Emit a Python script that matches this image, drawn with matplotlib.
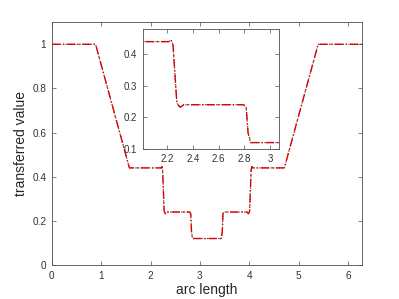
import matplotlib
matplotlib.use("Agg")
import matplotlib.pyplot as plt
import numpy as np

plt.rcParams['font.family'] = ['Liberation Sans', 'DejaVu Sans']

arc = [0.0, 0.886, 1.571, 2.215, 2.23, 2.245, 2.275, 2.30, 2.33, 2.795, 2.815, 2.83, 2.85,
       3.433, 3.453, 3.468, 3.488, 3.953, 3.983, 4.008, 4.038, 4.053, 4.068, 4.712, 5.397, 6.2832]
val = [1.0, 1.0, 0.44, 0.44, 0.446, 0.43, 0.245, 0.232, 0.24, 0.24, 0.232, 0.15, 0.12,
       0.12, 0.15, 0.232, 0.24, 0.24, 0.232, 0.245, 0.43, 0.446, 0.44, 0.44, 1.0, 1.0]

main_xticks = [0, 1, 2, 3, 4, 5, 6]
main_yticks = [0, 0.2, 0.4, 0.6, 0.8, 1]
inset_xticks = [2.2, 2.4, 2.6, 2.8, 3]
inset_yticks = [0.1, 0.2, 0.3, 0.4]

fig = plt.figure(figsize=(3.99, 2.99), dpi=100)
ax = fig.add_axes([0.130, 0.1137, 0.777, 0.812])

def style(a, fs):
    for s in a.spines.values():
        s.set_color('0.3')
        s.set_linewidth(0.6)
    a.tick_params(direction='in', top=True, right=True, length=3, width=0.5,
                  color='0.3', labelcolor='0.2', labelsize=fs, pad=4)

def draw(a):
    a.plot(arc, val, color='0.2', linestyle=(0, (1, 1.5)), linewidth=0.8)
    a.plot(arc, val, color='#e00000', linestyle=(0, (6, 2, 1, 2)), linewidth=1.0)

draw(ax)
ax.set_xlim(0, 2 * np.pi)
ax.set_ylim(0, 1.1)
ax.set_xticks(main_xticks)
ax.set_xticklabels([str(t) for t in main_xticks])
ax.set_yticks(main_yticks)
ax.set_yticklabels(['0', '0.2', '0.4', '0.6', '0.8', '1'])
style(ax, 7.2)
ax.set_xlabel('arc length', fontsize=10, color='0.15', labelpad=1.5)
ax.set_ylabel('transferred value', fontsize=10, color='0.15', labelpad=3)

ins = fig.add_axes([0.358, 0.502, 0.341, 0.401])
draw(ins)
ins.set_xlim(2.01, 3.07)
ins.set_ylim(0.1, 0.48)
ins.set_xticks(inset_xticks)
ins.set_xticklabels(['2.2', '2.4', '2.6', '2.8', '3'])
ins.set_yticks(inset_yticks)
ins.set_yticklabels(['0.1', '0.2', '0.3', '0.4'])
style(ins, 7)

fig.savefig('out.png', dpi=100)
